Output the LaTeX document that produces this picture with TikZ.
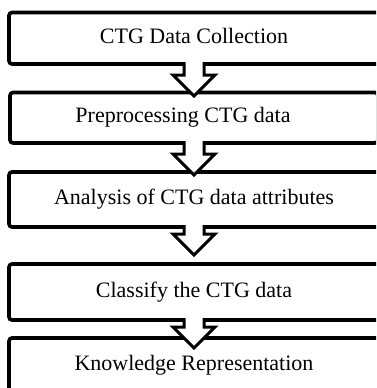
\documentclass[tikz,border=0pt]{standalone}
\usepackage{fontspec}
\setmainfont{Liberation Serif}
\usetikzlibrary{positioning, calc}

% hollow block arrow from the bottom of one box towards the next one
\newcommand{\flowarrow}[3]{%
  \filldraw[arr] let \p1=(#1.south), \p2=(#2.north), \n1={\y2-(#3)}, \n2={\y2-(#3)+21pt} in
    (\x1-10pt,\y1+1.8pt) -- (\x1-10pt,\n2) -- (\x1-21pt,\n2)
    -- (\x1,\n1) -- (\x1+21pt,\n2) -- (\x1+10pt,\n2)
    -- (\x1+10pt,\y1+1.8pt);}

\begin{document}
\begin{tikzpicture}[
    x=1pt, y=-1pt,
    node distance=29pt,
    box/.style={draw, line width=3.6pt, rounded corners=3pt, minimum width=370pt, minimum height=51pt,
      inner sep=0pt, outer sep=0pt, text height=15pt, text depth=5pt, font=\fontsize{22}{26}\selectfont},
    arr/.style={line width=3pt, fill=white}
  ]
    \useasboundingbox (0,0) rectangle (376,388);
    \clip (0,0) rectangle (376,388);
    \node[box, minimum height=51.5pt] (collect) at (194,38.25) {CTG Data Collection};
    \node[box, minimum height=50.5pt, minimum width=368pt, below=28.5pt of collect] (preproc) {\hspace*{-22pt}Preprocessing CTG data};
    \node[box, minimum height=55pt, below=of preproc] (attrib) {Analysis of CTG data attributes};
    \node[box, minimum height=56pt, below=37pt of attrib] (classify) {Classify the CTG data};
    \node[box, minimum height=55pt, below=18pt of classify] (knowledge) {Knowledge Representation};
    \flowarrow{collect}{preproc}{3.5pt}
    \flowarrow{preproc}{attrib}{3pt}
    \flowarrow{attrib}{classify}{-9pt}
    \flowarrow{classify}{knowledge}{10pt}
  \end{tikzpicture}
\end{document}
